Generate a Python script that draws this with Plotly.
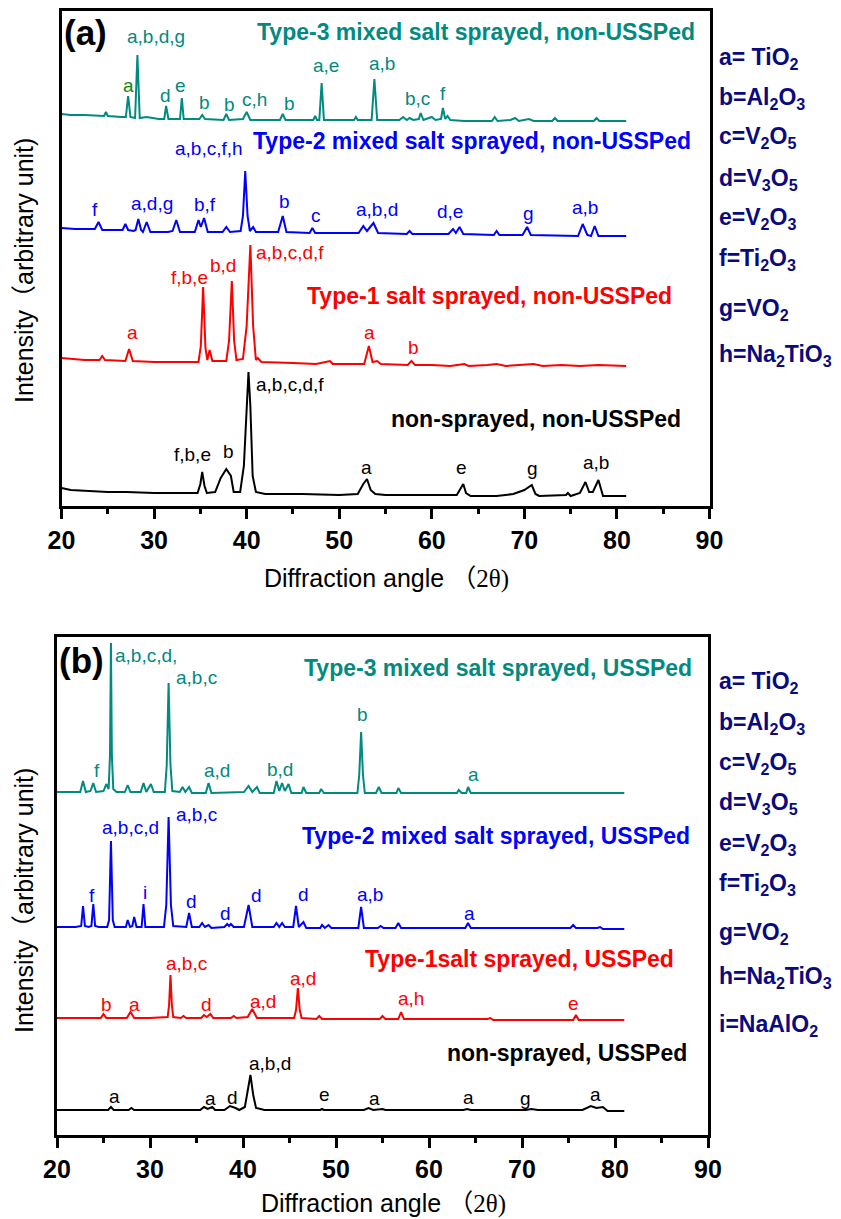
import plotly.graph_objects as go

W, H = 841, 1219
FONT = "Arial, Liberation Sans, Noto Sans CJK SC, sans-serif"

TEAL = "#008a80"
GREEN = "#108a10"
BLUE = "#0000ff"
RED = "#ff0000"
BLACK = "#000000"
NAVY = "#0a0a80"

# ---------------- panel (a): non-USSPed, stacked intensity (arb. unit) vs 2θ ----------------
a_type3 = [(20.0, 392), (21.0, 391), (22.5, 391), (24.0, 390), (24.6, 390), (24.8, 394), (25.0, 390),
           (26.5, 389), (26.95, 389), (27.2, 410), (27.45, 389), (27.95, 388), (28.2, 451), (28.45, 388),
           (29.2, 389), (30.5, 387), (31.1, 387), (31.3, 400), (31.55, 387), (32.8, 387), (33.0, 408),
           (33.2, 387), (34.9, 387), (35.2, 391), (35.5, 387), (37.5, 386), (37.8, 392), (38.1, 386),
           (39.6, 387), (40.0, 394), (40.4, 386), (41.5, 386), (43.6, 386), (43.9, 392), (44.2, 386),
           (47.2, 386), (47.4, 390), (47.6, 386), (47.85, 386), (48.1, 423), (48.35, 386), (51.6, 386),
           (51.8, 389), (52.0, 386), (53.5, 386), (53.8, 427), (54.1, 386), (56.5, 386), (56.9, 389),
           (57.3, 386), (57.6, 388), (58.0, 386), (58.6, 387), (58.8, 393), (59.1, 386), (60.0, 389),
           (60.4, 386), (61.0, 387), (61.2, 398), (61.45, 387), (61.7, 390), (62.0, 386), (63.5, 385),
           (66.5, 385), (66.8, 389), (67.1, 385), (68.5, 386), (69.0, 388), (69.4, 385), (70.5, 387),
           (71.0, 385), (73.0, 385), (73.3, 388), (73.6, 385), (76.0, 385), (77.5, 385), (77.8, 388),
           (78.1, 385), (81.0, 385)]

a_type2 = [(20.0, 278), (21.5, 277), (23.6, 277), (24.0, 284), (24.4, 276), (26.0, 276), (26.6, 276),
           (26.9, 282), (27.2, 276), (27.8, 275), (28.0, 276), (28.3, 287), (28.6, 276), (28.8, 274),
           (29.2, 284), (29.6, 274), (31.5, 274), (32.0, 275), (32.4, 286), (32.8, 274), (34.4, 274),
           (34.8, 286), (35.05, 279), (35.4, 288), (35.8, 274), (37.4, 274), (37.8, 279), (38.2, 274),
           (39.35, 275), (39.6, 290), (39.85, 335), (40.1, 290), (40.35, 275), (40.7, 279), (41.0, 274),
           (43.4, 274), (43.9, 290), (44.3, 274), (46.8, 273), (47.1, 278), (47.4, 273), (52.1, 273),
           (52.6, 280), (53.0, 275), (53.7, 283), (54.2, 273), (57.3, 272), (57.6, 275), (57.9, 272),
           (61.8, 272), (62.3, 277), (62.6, 273), (63.0, 279), (63.4, 272), (66.7, 271), (67.0, 275),
           (67.3, 271), (69.8, 271), (70.3, 279), (70.7, 271), (75.8, 270), (76.3, 282), (76.8, 271),
           (77.2, 270), (77.6, 280), (78.0, 270), (81.0, 270)]

a_type1 = [(20.0, 148), (21.0, 147), (22.5, 146), (24.1, 146), (24.4, 150), (24.7, 146), (26.9, 145),
           (27.3, 157), (27.7, 145), (30.0, 144), (33.0, 144), (34.8, 144), (35.05, 160), (35.3, 219),
           (35.55, 158), (35.75, 146), (36.0, 156), (36.3, 145), (37.8, 145), (38.1, 165), (38.4, 225),
           (38.65, 165), (38.9, 146), (39.6, 147), (40.0, 180), (40.4, 261), (40.7, 180), (41.0, 146),
           (41.2, 148), (41.6, 144), (45.0, 143), (47.5, 142), (49.0, 145), (49.3, 142), (52.7, 142),
           (53.2, 160), (53.6, 144), (54.1, 145), (54.5, 142), (57.4, 141), (57.8, 145), (58.2, 141),
           (60.0, 141), (62.0, 140), (63.5, 142), (64.0, 140), (66.0, 141), (67.0, 142), (68.0, 140),
           (70.0, 141), (71.0, 142), (72.0, 140), (74.0, 141), (76.0, 140), (78.0, 141), (81.0, 140)]

a_bare = [(20.0, 18), (21.0, 16), (23.0, 15), (25.0, 14), (27.0, 14), (30.0, 13), (33.0, 13), (34.7, 13),
          (35.0, 22), (35.2, 34), (35.45, 20), (35.7, 13), (36.6, 14), (37.2, 28), (37.8, 37), (38.3, 30),
          (38.6, 14), (39.3, 14), (39.7, 40), (40.0, 100), (40.2, 134), (40.4, 100), (40.65, 30),
          (41.0, 14), (42.0, 12), (46.0, 12), (50.0, 11), (52.0, 12), (52.6, 22), (53.0, 27), (53.4, 16),
          (53.9, 12), (55.0, 11), (62.7, 11), (63.1, 17), (63.4, 22), (63.7, 13), (64.2, 10), (67.0, 10),
          (68.8, 12), (70.0, 16), (70.8, 21), (71.2, 12), (71.6, 10), (74.5, 11), (74.7, 13), (75.0, 10),
          (76.0, 13), (76.6, 24), (77.0, 14), (77.4, 14), (78.0, 26), (78.5, 10), (81.0, 10)]

# ---------------- panel (b): USSPed ----------------
b_type3 = [(20.0, 343), (21.5, 343), (22.5, 343), (22.8, 354), (23.1, 343), (23.6, 344), (23.9, 352),
           (24.2, 343), (25.0, 344), (25.3, 351), (25.55, 346), (25.7, 380), (25.8, 492), (25.9, 380),
           (26.05, 346), (26.4, 343), (27.3, 343), (27.6, 350), (27.9, 343), (29.0, 343), (29.3, 352),
           (29.6, 343), (30.1, 351), (30.4, 343), (31.6, 343), (31.8, 370), (32.0, 452), (32.2, 370),
           (32.4, 344), (33.2, 343), (33.5, 348), (33.8, 343), (34.2, 348), (34.5, 342), (36.0, 342),
           (36.3, 352), (36.6, 342), (40.1, 343), (40.6, 349), (41.0, 343), (41.5, 348), (41.8, 342),
           (43.3, 342), (43.6, 354), (43.9, 344), (44.2, 352), (44.5, 344), (44.9, 351), (45.2, 342),
           (46.3, 342), (46.5, 348), (46.8, 342), (48.2, 342), (48.4, 346), (48.7, 342), (52.3, 342),
           (52.5, 360), (52.7, 403), (52.9, 360), (53.1, 342), (54.3, 342), (54.6, 348), (54.9, 342),
           (56.5, 342), (56.7, 347), (57.0, 342), (63.0, 342), (63.2, 345), (63.5, 342), (64.0, 342),
           (64.2, 348), (64.5, 342), (70.0, 342), (75.0, 342), (81.0, 342)]

b_type2 = [(20.0, 208), (22.0, 208), (22.6, 209), (22.8, 229), (23.0, 209), (23.4, 208), (23.7, 209),
           (23.9, 231), (24.1, 209), (24.5, 208), (25.4, 208), (25.6, 215), (25.8, 294), (26.0, 215),
           (26.2, 208), (27.4, 208), (27.6, 215), (27.85, 208), (28.1, 209), (28.3, 218), (28.55, 208),
           (29.1, 208), (29.3, 231), (29.5, 208), (31.5, 208), (31.75, 230), (32.0, 318), (32.25, 230),
           (32.5, 209), (33.9, 208), (34.2, 222), (34.5, 208), (35.3, 208), (35.6, 212), (35.9, 208),
           (36.3, 210), (36.6, 207), (38.0, 208), (38.3, 211), (38.5, 209), (38.7, 211), (39.0, 208),
           (40.1, 208), (40.6, 230), (41.0, 208), (43.3, 208), (43.6, 212), (43.9, 208), (44.2, 212),
           (44.5, 208), (45.4, 208), (45.7, 229), (46.0, 208), (46.5, 213), (46.8, 207), (48.3, 207),
           (48.5, 210), (48.8, 207), (49.2, 210), (49.5, 207), (52.4, 207), (52.7, 228), (53.0, 207),
           (54.5, 207), (54.8, 209), (55.1, 207), (56.4, 207), (56.7, 212), (57.0, 207), (63.9, 207),
           (64.2, 212), (64.5, 207), (75.2, 207), (75.5, 210), (75.8, 207), (78.1, 207), (78.4, 208),
           (78.7, 206), (81.0, 206)]

b_type1 = [(20.0, 117), (22.0, 117), (24.7, 117), (25.0, 121), (25.3, 117), (27.5, 117), (27.9, 123),
           (28.3, 117), (30.0, 117), (31.9, 118), (32.05, 130), (32.2, 160), (32.35, 130), (32.5, 118),
           (33.3, 117), (33.6, 119), (33.9, 117), (35.5, 117), (35.8, 120), (36.1, 118), (36.5, 121),
           (36.8, 117), (38.7, 117), (39.0, 119), (39.3, 117), (40.5, 118), (41.0, 126), (41.5, 117),
           (45.5, 117), (45.7, 125), (45.9, 147), (46.1, 125), (46.3, 117), (47.9, 116), (48.2, 119),
           (48.5, 116), (54.7, 116), (55.0, 119), (55.3, 116), (56.7, 116), (57.0, 123), (57.3, 116),
           (66.3, 116), (66.6, 117), (66.9, 115), (75.5, 115), (75.8, 120), (76.1, 115), (81.0, 115)]

b_bare = [(20.0, 25), (25.5, 25), (25.8, 28), (26.1, 25), (27.7, 25), (28.0, 27), (28.3, 25), (35.4, 25),
          (35.8, 28), (36.2, 26), (36.7, 28), (37.0, 25), (38.0, 25), (38.6, 29), (39.2, 27), (39.6, 25),
          (40.2, 28), (40.5, 45), (40.8, 60), (41.1, 40), (41.4, 27), (41.9, 26), (42.3, 25), (48.3, 25),
          (48.5, 26), (48.7, 25), (53.0, 25), (53.5, 27), (54.0, 25), (55.0, 26), (55.3, 25), (63.7, 25),
          (64.1, 26), (64.5, 25), (70.4, 25), (71.0, 26), (71.7, 25), (76.5, 25), (77.4, 29), (78.0, 27),
          (78.7, 28), (79.2, 24), (81.0, 24)]

# series titles: (text, 2θ centre, level, colour)
titles_a = [("Type-3 mixed salt sprayed, non-USSPed", 64.8, 474, TEAL),
            ("Type-2 mixed salt sprayed, non-USSPed", 64.3, 365, BLUE),
            ("Type-1 salt sprayed, non-USSPed", 66.2, 210, RED),
            ("non-sprayed, non-USSPed", 71.3, 87, BLACK)]
titles_b = [("Type-3 mixed salt sprayed, USSPed", 67.4, 467, TEAL),
            ("Type-2 mixed salt sprayed, USSPed", 67.2, 299, BLUE),
            ("Type-1salt sprayed, USSPed", 69.7, 176, RED),
            ("non-sprayed, USSPed", 74.8, 82, BLACK)]

# phase markers over the peaks: (text, 2θ, level, colour)
peaks_a = [("a,b,d,g", 30.2, 469, TEAL), ("a", 27.2, 420, GREEN), ("d", 31.2, 410, TEAL),
           ("e", 32.9, 420, TEAL), ("b", 35.5, 403, TEAL), ("b", 38.2, 401, TEAL),
           ("c,h", 40.8, 406, TEAL), ("b", 44.6, 402, TEAL), ("a,e", 48.6, 440, TEAL),
           ("a,b", 54.6, 442, TEAL), ("b,c", 58.5, 407, TEAL), ("f", 61.2, 412, TEAL),
           ("a,b,c,f,h", 35.9, 357, BLUE), ("f", 23.6, 296, BLUE), ("a,d,g", 29.8, 302, BLUE),
           ("b,f", 35.5, 301, BLUE), ("b", 44.1, 304, BLUE), ("c", 47.5, 290, BLUE),
           ("a,b,d", 54.1, 296, BLUE), ("d,e", 62.0, 294, BLUE), ("g", 70.4, 292, BLUE),
           ("a,b", 76.6, 298, BLUE),
           ("f,b,e", 33.8, 229, RED), ("b,d", 37.4, 241, RED), ("a,b,c,d,f", 44.7, 253, RED),
           ("a", 27.7, 174, RED), ("a", 53.3, 174, RED), ("b", 58.0, 159, RED),
           ("a,b,c,d,f", 44.7, 122, BLACK), ("f,b,e", 34.1, 52, BLACK), ("b", 38.0, 55, BLACK),
           ("a", 53.0, 39, BLACK), ("e", 63.2, 39, BLACK), ("g", 70.9, 38, BLACK),
           ("a,b", 77.7, 44, BLACK)]
peaks_b = [("a,b,c,d,", 29.6, 480, TEAL), ("a,b,c", 35.0, 458, TEAL), ("f", 24.3, 365, TEAL),
           ("a,d", 37.2, 365, TEAL), ("b,d", 44.0, 366, TEAL), ("b", 52.9, 421, TEAL),
           ("a", 64.8, 361, TEAL),
           ("a,b,c,d", 27.9, 308, BLUE), ("a,b,c", 35.0, 321, BLUE), ("f", 23.8, 240, BLUE),
           ("i", 29.5, 243, BLUE), ("d", 34.5, 234, BLUE), ("d", 38.1, 222, BLUE),
           ("d", 41.4, 240, BLUE), ("d", 46.5, 241, BLUE), ("a,b", 53.7, 241, BLUE),
           ("a", 64.4, 222, BLUE),
           ("a,b,c", 33.9, 172, RED), ("b", 25.3, 131, RED), ("a", 28.3, 131, RED),
           ("d", 36.1, 131, RED), ("a,d", 42.2, 134, RED), ("a,d", 46.5, 157, RED),
           ("a,h", 58.1, 137, RED), ("e", 75.5, 132, RED),
           ("a,b,d", 42.9, 72, BLACK), ("a", 26.2, 39, BLACK), ("a", 36.5, 37, BLACK),
           ("d", 38.9, 38, BLACK), ("e", 48.8, 41, BLACK), ("a", 54.1, 37, BLACK),
           ("a", 64.2, 38, BLACK), ("g", 70.4, 37, BLACK), ("a", 77.9, 41, BLACK)]

phases = ["a= TiO<sub>2</sub>", "b=Al<sub>2</sub>O<sub>3</sub>", "c=V<sub>2</sub>O<sub>5</sub>",
          "d=V<sub>3</sub>O<sub>5</sub>", "e=V<sub>2</sub>O<sub>3</sub>", "f=Ti<sub>2</sub>O<sub>3</sub>",
          "g=VO<sub>2</sub>", "h=Na<sub>2</sub>TiO<sub>3</sub>", "i=NaAlO<sub>2</sub>"]

# pixel boxes of the two frames (left, top, right, bottom)
BOX_A = (61.5, 11, 709.5, 506)
BOX_B = (57, 637, 708, 1135)
YMAX_A, YMAX_B = 495, 498

fig = go.Figure()

for pts, color, xa, ya in [(a_type3, TEAL, "x", "y"), (a_type2, BLUE, "x", "y"),
                           (a_type1, RED, "x", "y"), (a_bare, BLACK, "x", "y"),
                           (b_type3, TEAL, "x2", "y2"), (b_type2, BLUE, "x2", "y2"),
                           (b_type1, RED, "x2", "y2"), (b_bare, BLACK, "x2", "y2")]:
    fig.add_trace(go.Scatter(x=[p[0] for p in pts], y=[p[1] for p in pts], mode="lines",
                             line=dict(color=color, width=2), xaxis=xa, yaxis=ya,
                             showlegend=False, hoverinfo="skip"))


def xaxis_style(box, anchor):
    return dict(domain=[box[0] / W, box[2] / W], anchor=anchor, range=[20, 90], automargin=False,
                tick0=20, dtick=10, ticks="outside", ticklen=10, tickwidth=3, tickcolor="black",
                showline=True, linewidth=3, linecolor="black", mirror=True,
                showgrid=False, zeroline=False,
                tickfont=dict(family=FONT, size=25, color="black", weight="bold"),
                minor=dict(dtick=5, tick0=20, ticks="outside", ticklen=5, tickwidth=3,
                           tickcolor="black", showgrid=False))


def yaxis_style(box, anchor, ymax):
    return dict(domain=[1 - box[3] / H, 1 - box[1] / H], anchor=anchor, range=[0, ymax],
                automargin=False, showline=True, linewidth=3, linecolor="black", mirror=True,
                ticks="", showticklabels=False, showgrid=False, zeroline=False)


annotations = []


def txt(text, x, y, xref, yref, size, color, xanchor="center", angle=0):
    annotations.append(dict(text=text, x=x, y=y, xref=xref, yref=yref, showarrow=False,
                            xanchor=xanchor, yanchor="middle", textangle=angle,
                            font=dict(family=FONT, size=size, color=color)))


for t, x, y, c in titles_a:
    txt(f"<b>{t}</b>", x, y, "x", "y", 23, c)
for t, x, y, c in titles_b:
    txt(f"<b>{t}</b>", x, y, "x2", "y2", 23, c)
for t, x, y, c in peaks_a:
    txt(t, x, y, "x", "y", 19, c)
for t, x, y, c in peaks_b:
    txt(t, x, y, "x2", "y2", 19, c)

# phase keys to the right of each frame
for t, py in zip(phases[:8], [58, 99, 138, 179, 219, 260, 309, 355]):
    txt(f"<b>{t}</b>", 717 / W, 1 - py / H, "paper", "paper", 23, NAVY, xanchor="left")
for t, py in zip(phases, [682, 723, 763, 803, 844, 884, 933, 977, 1025]):
    txt(f"<b>{t}</b>", 717 / W, 1 - py / H, "paper", "paper", 23, NAVY, xanchor="left")

# panel tags
txt("<b>(a)</b>", 62 / W, 1 - 32 / H, "paper", "paper", 35, "black", xanchor="left")
txt("<b>(b)</b>", 57 / W, 1 - 660 / H, "paper", "paper", 35, "black", xanchor="left")

# axis titles
xtitle = "Diffraction angle （<span style='font-family:Liberation Serif'>2θ)</span>"
ytitle = "Intensity（arbitrary unit)"
txt(xtitle, 386 / W, 1 - 578 / H, "paper", "paper", 25, "black")
txt(xtitle, 383 / W, 1 - 1203 / H, "paper", "paper", 25, "black")
txt(ytitle, 24 / W, 1 - 271 / H, "paper", "paper", 25, "black", angle=-90)
txt(ytitle, 24 / W, 1 - 901 / H, "paper", "paper", 25, "black", angle=-90)

fig.update_layout(
    template="none",
    width=W, height=H, margin=dict(l=0, r=0, t=0, b=0, autoexpand=False),
    paper_bgcolor="white", plot_bgcolor="white",
    xaxis=xaxis_style(BOX_A, "y"), yaxis=yaxis_style(BOX_A, "x", YMAX_A),
    xaxis2=xaxis_style(BOX_B, "y2"), yaxis2=yaxis_style(BOX_B, "x2", YMAX_B),
    annotations=annotations, showlegend=False,
)

fig.write_html("out.html")
